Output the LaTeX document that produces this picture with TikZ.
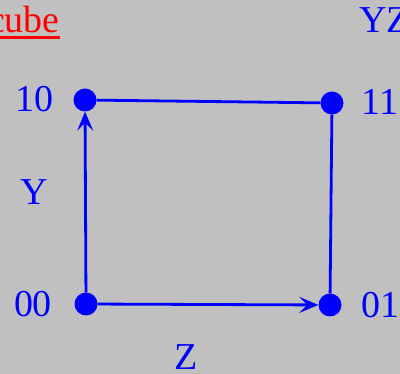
\documentclass[tikz,border=0pt]{standalone}
\usepackage{fontspec}
\setmainfont{Liberation Serif}
\usetikzlibrary{arrows.meta}
\definecolor{bg}{HTML}{C0C0C0}
\tikzset{
  dot/.style={circle,fill=blue,inner sep=0pt,minimum size=23pt},
  lbl/.style={text=blue,font=\fontsize{38}{42}\selectfont,inner sep=0pt},
  edge/.style={draw=blue,line width=2.8pt},
  arr/.style={edge,-{Stealth[length=19pt,width=16pt,inset=8pt]}}
}
\begin{document}
\begin{tikzpicture}[x=1pt,y=-1pt]
\fill[bg] (0,0) rectangle (400,374);
\useasboundingbox (0,0) rectangle (400,374);
\node[dot] (n10) at (85,100) {};
\node[dot] (n11) at (332,103) {};
\node[dot] (n00) at (86,304) {};
\node[dot] (n01) at (330,305) {};
\draw[edge] (n10) -- (n11);
\draw[edge] (n11) -- (n01);
\draw[arr] (n00) -- (n10);
\draw[arr] (n00) -- (n01);
\node[lbl] (l10) at (35,99) {10};
\node[lbl] (l11) at (380,102) {11};
\node[lbl] (l00) at (33,304) {00};
\node[lbl] (l01) at (380,305) {01};
\node[lbl] (ly) at (34,192) {Y};
\node[lbl] (lz) at (186,357) {Z};
\node[lbl,anchor=base west] (lyz) at (359,33) {YZ};
\node[lbl,text=red,anchor=base east] (cube) at (60,33) {cube};
\draw[red,line width=3pt] ([yshift=-5pt]cube.base west) -- ([yshift=-5pt]cube.base east);
\end{tikzpicture}
\end{document}
